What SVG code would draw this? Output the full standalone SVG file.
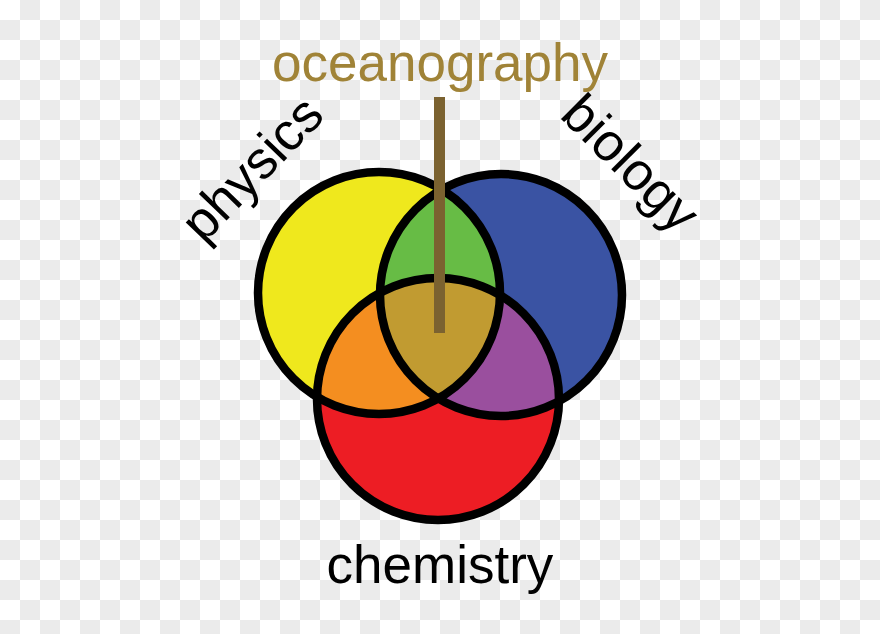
<svg xmlns="http://www.w3.org/2000/svg" width="880" height="634" viewBox="0 0 880 634">
  <defs>
    <pattern id="checker" width="40" height="40" patternUnits="userSpaceOnUse">
      <rect width="40" height="40" fill="#ffffff"/>
      <rect x="20" y="0" width="20" height="20" fill="#ebebeb"/>
      <rect x="0" y="20" width="20" height="20" fill="#ebebeb"/>
    </pattern>
    <clipPath id="clipY"><circle cx="379" cy="293" r="121"/></clipPath>
    <clipPath id="clipB"><circle cx="501" cy="295" r="121"/></clipPath>
  </defs>
  <style>
    .lbl { font-family: "Liberation Sans", Arial, sans-serif; font-size: 53px; fill: #000000; }
    .ocean { fill: #A08337; }
    .ring { fill: none; stroke: #000000; stroke-width: 8.5; }
  </style>
  <rect width="880" height="634" fill="url(#checker)"/>

  <g id="physics">
    <circle cx="379" cy="293" r="121" fill="#EFE81D"/>
    <text class="lbl" transform="translate(265,181) rotate(-46)" text-anchor="middle">physics</text>
  </g>
  <g id="biology">
    <circle cx="501" cy="295" r="121" fill="#3A53A3"/>
    <text class="lbl" transform="translate(618,176) rotate(45)" text-anchor="middle">biology</text>
  </g>
  <g id="chemistry">
    <circle cx="438" cy="399" r="121" fill="#ED1D24"/>
    <text class="lbl" x="440" y="583" text-anchor="middle">chemistry</text>
  </g>
  <g id="overlaps">
    <circle cx="501" cy="295" r="121" fill="#67BC45" clip-path="url(#clipY)"/>
    <circle cx="438" cy="399" r="121" fill="#F48E20" clip-path="url(#clipY)"/>
    <circle cx="438" cy="399" r="121" fill="#9A4F9E" clip-path="url(#clipB)"/>
    <g clip-path="url(#clipY)">
      <circle cx="438" cy="399" r="121" fill="#C19B31" clip-path="url(#clipB)"/>
    </g>
  </g>
  <g id="outlines">
    <circle class="ring" cx="379" cy="293" r="121"/>
    <circle class="ring" cx="501" cy="295" r="121"/>
    <circle class="ring" cx="438" cy="399" r="121"/>
  </g>
  <g id="connectors">
    <rect x="434" y="97" width="11" height="236" fill="#7B6230"/>
  </g>
  <g id="oceanography">
    <text class="lbl ocean" x="440" y="81" text-anchor="middle">oceanography</text>
  </g>
</svg>
